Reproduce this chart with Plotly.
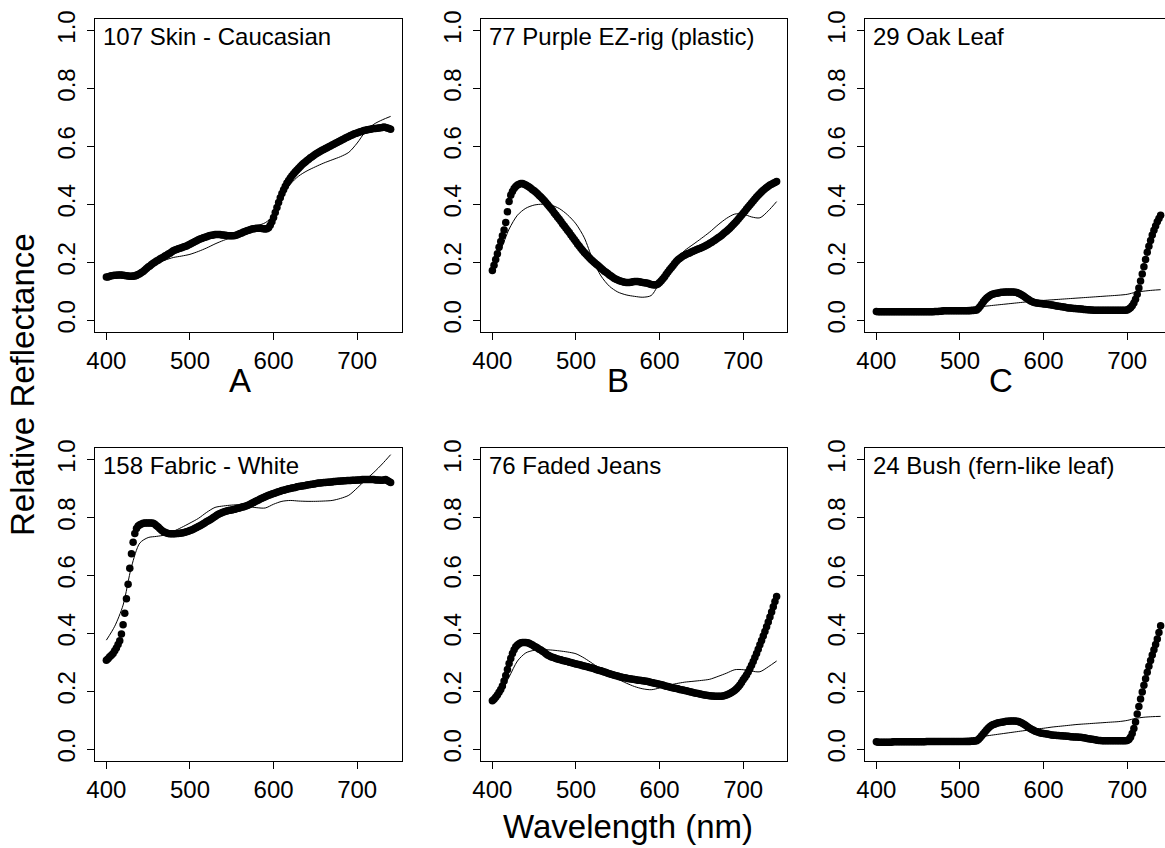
import plotly.graph_objects as go

# ---------------- data ----------------
wavelengths = list(range(400, 741, 2))      # measured wavelengths (nm)
fit_wavelengths = list(range(400, 741, 10))  # wavelengths of the fitted curves (nm)

panel_titles = ["107 Skin - Caucasian", "77 Purple EZ-rig (plastic)", "29 Oak Leaf",
                "158 Fabric - White", "76 Faded Jeans", "24 Bush (fern-like leaf)"]
panel_letters = ["A", "B", "C"]
x_tick_vals = [400, 500, 600, 700]
y_tick_vals = [0.0, 0.2, 0.4, 0.6, 0.8, 1.0]
y_tick_text = ["0.0", "0.2", "0.4", "0.6", "0.8", "1.0"]

skin_measured = [
    0.150, 0.150, 0.152, 0.154, 0.155, 0.156, 0.156, 0.157, 0.157, 0.157,
    0.156, 0.155, 0.154, 0.153, 0.152, 0.152, 0.152, 0.153, 0.155, 0.158,
    0.161, 0.165, 0.169, 0.174, 0.179, 0.184, 0.188, 0.193, 0.197, 0.201,
    0.205, 0.208, 0.212, 0.215, 0.218, 0.222, 0.225, 0.229, 0.232, 0.236,
    0.240, 0.243, 0.245, 0.247, 0.249, 0.251, 0.253, 0.255, 0.257, 0.260,
    0.263, 0.266, 0.269, 0.272, 0.275, 0.278, 0.281, 0.283, 0.285, 0.287,
    0.289, 0.291, 0.293, 0.294, 0.295, 0.296, 0.296, 0.296, 0.296, 0.295,
    0.295, 0.294, 0.293, 0.292, 0.292, 0.292, 0.292, 0.293, 0.295, 0.297,
    0.300, 0.302, 0.305, 0.307, 0.309, 0.311, 0.313, 0.315, 0.316, 0.317,
    0.318, 0.318, 0.318, 0.317, 0.316, 0.315, 0.316, 0.320, 0.328, 0.340,
    0.355, 0.372, 0.390, 0.407, 0.423, 0.438, 0.451, 0.463, 0.474, 0.483,
    0.491, 0.499, 0.506, 0.513, 0.519, 0.525, 0.531, 0.537, 0.542, 0.547,
    0.552, 0.556, 0.561, 0.565, 0.569, 0.573, 0.577, 0.580, 0.584, 0.587,
    0.590, 0.593, 0.596, 0.599, 0.602, 0.605, 0.608, 0.611, 0.614, 0.617,
    0.620, 0.623, 0.626, 0.629, 0.632, 0.635, 0.638, 0.640, 0.643, 0.645,
    0.647, 0.649, 0.651, 0.653, 0.655, 0.656, 0.658, 0.659, 0.660, 0.661,
    0.662, 0.662, 0.663, 0.664, 0.665, 0.666, 0.667, 0.666, 0.664, 0.662,
    0.660]
skin_fit = [
    0.148, 0.152, 0.157, 0.163, 0.172, 0.185, 0.198, 0.208, 0.217, 0.222,
    0.228, 0.238, 0.250, 0.264, 0.276, 0.287, 0.300, 0.314, 0.326, 0.337,
    0.362, 0.425, 0.470, 0.498, 0.516, 0.530, 0.543, 0.554, 0.565, 0.580,
    0.612, 0.652, 0.677, 0.692, 0.704]

purple_measured = [
    0.172, 0.190, 0.210, 0.230, 0.252, 0.272, 0.292, 0.312, 0.338, 0.375,
    0.410, 0.432, 0.445, 0.455, 0.462, 0.467, 0.470, 0.472, 0.472, 0.470,
    0.467, 0.464, 0.460, 0.456, 0.451, 0.447, 0.442, 0.437, 0.431, 0.426,
    0.420, 0.414, 0.407, 0.400, 0.393, 0.386, 0.379, 0.371, 0.364, 0.356,
    0.349, 0.341, 0.333, 0.326, 0.318, 0.310, 0.303, 0.295, 0.287, 0.279,
    0.271, 0.263, 0.256, 0.248, 0.241, 0.234, 0.228, 0.222, 0.216, 0.210,
    0.205, 0.200, 0.195, 0.190, 0.185, 0.180, 0.175, 0.170, 0.166, 0.162,
    0.157, 0.153, 0.149, 0.145, 0.142, 0.139, 0.137, 0.135, 0.133, 0.132,
    0.131, 0.131, 0.131, 0.132, 0.133, 0.134, 0.134, 0.134, 0.133, 0.132,
    0.131, 0.130, 0.129, 0.128, 0.126, 0.124, 0.123, 0.122, 0.123, 0.126,
    0.131, 0.137, 0.144, 0.151, 0.159, 0.167, 0.175, 0.182, 0.189, 0.196,
    0.203, 0.209, 0.214, 0.218, 0.222, 0.225, 0.228, 0.231, 0.233, 0.236,
    0.239, 0.241, 0.244, 0.246, 0.248, 0.251, 0.253, 0.256, 0.259, 0.262,
    0.266, 0.269, 0.273, 0.277, 0.281, 0.285, 0.289, 0.293, 0.298, 0.303,
    0.308, 0.313, 0.318, 0.324, 0.330, 0.336, 0.342, 0.349, 0.356, 0.363,
    0.370, 0.377, 0.384, 0.391, 0.398, 0.405, 0.412, 0.419, 0.426, 0.432,
    0.438, 0.444, 0.449, 0.454, 0.459, 0.463, 0.467, 0.470, 0.473, 0.476,
    0.479]
purple_fit = [
    0.205, 0.245, 0.315, 0.363, 0.387, 0.398, 0.401, 0.398, 0.386, 0.364,
    0.333, 0.285, 0.210, 0.153, 0.118, 0.098, 0.088, 0.083, 0.080, 0.086,
    0.130, 0.172, 0.212, 0.241, 0.262, 0.283, 0.305, 0.330, 0.352, 0.367,
    0.367, 0.357, 0.354, 0.378, 0.410]

oak_measured = [
    0.031, 0.030, 0.030, 0.030, 0.030, 0.030, 0.030, 0.030, 0.030, 0.030,
    0.030, 0.030, 0.030, 0.030, 0.030, 0.030, 0.030, 0.030, 0.030, 0.030,
    0.030, 0.030, 0.030, 0.030, 0.030, 0.030, 0.030, 0.030, 0.030, 0.030,
    0.030, 0.030, 0.030, 0.030, 0.030, 0.031, 0.031, 0.031, 0.032, 0.032,
    0.033, 0.033, 0.033, 0.033, 0.033, 0.033, 0.033, 0.033, 0.033, 0.033,
    0.033, 0.033, 0.033, 0.033, 0.033, 0.033, 0.033, 0.034, 0.034, 0.035,
    0.036, 0.041, 0.048, 0.056, 0.064, 0.071, 0.077, 0.082, 0.086, 0.089,
    0.091, 0.093, 0.094, 0.095, 0.096, 0.097, 0.097, 0.098, 0.098, 0.098,
    0.098, 0.098, 0.098, 0.097, 0.096, 0.094, 0.091, 0.088, 0.084, 0.080,
    0.076, 0.072, 0.068, 0.065, 0.063, 0.061, 0.060, 0.059, 0.058, 0.058,
    0.057, 0.057, 0.056, 0.055, 0.054, 0.053, 0.052, 0.051, 0.050, 0.049,
    0.048, 0.047, 0.046, 0.045, 0.044, 0.043, 0.043, 0.042, 0.041, 0.041,
    0.040, 0.040, 0.039, 0.039, 0.038, 0.038, 0.037, 0.037, 0.036, 0.036,
    0.035, 0.035, 0.035, 0.035, 0.035, 0.035, 0.035, 0.035, 0.035, 0.035,
    0.035, 0.035, 0.035, 0.035, 0.035, 0.035, 0.035, 0.035, 0.035, 0.035,
    0.036, 0.039, 0.044, 0.051, 0.060, 0.073, 0.090, 0.112, 0.136, 0.160,
    0.185, 0.210, 0.235, 0.256, 0.276, 0.295, 0.311, 0.326, 0.340, 0.352,
    0.363]
oak_fit = [
    0.031, 0.032, 0.033, 0.034, 0.035, 0.036, 0.037, 0.039, 0.040, 0.042,
    0.043, 0.045, 0.047, 0.049, 0.052, 0.055, 0.058, 0.061, 0.064, 0.067,
    0.069, 0.071, 0.073, 0.075, 0.077, 0.079, 0.081, 0.083, 0.085, 0.087,
    0.090, 0.097, 0.101, 0.104, 0.106]

fabric_measured = [
    0.308, 0.313, 0.320, 0.325, 0.331, 0.340, 0.350, 0.362, 0.375, 0.398,
    0.430, 0.470, 0.520, 0.570, 0.625, 0.675, 0.715, 0.745, 0.762, 0.771,
    0.775, 0.778, 0.780, 0.781, 0.781, 0.781, 0.781, 0.781, 0.780, 0.777,
    0.772, 0.767, 0.761, 0.756, 0.752, 0.749, 0.747, 0.745, 0.744, 0.744,
    0.744, 0.744, 0.745, 0.745, 0.746, 0.747, 0.748, 0.749, 0.751, 0.753,
    0.755, 0.757, 0.760, 0.763, 0.766, 0.769, 0.772, 0.775, 0.779, 0.782,
    0.786, 0.789, 0.792, 0.796, 0.800, 0.804, 0.808, 0.811, 0.814, 0.817,
    0.819, 0.821, 0.823, 0.824, 0.825, 0.826, 0.828, 0.829, 0.831, 0.832,
    0.834, 0.836, 0.837, 0.839, 0.841, 0.843, 0.846, 0.849, 0.852, 0.855,
    0.858, 0.861, 0.864, 0.867, 0.869, 0.872, 0.874, 0.877, 0.879, 0.881,
    0.883, 0.885, 0.887, 0.889, 0.891, 0.893, 0.894, 0.896, 0.898, 0.899,
    0.900, 0.902, 0.903, 0.904, 0.906, 0.907, 0.908, 0.909, 0.910, 0.911,
    0.912, 0.913, 0.914, 0.915, 0.916, 0.917, 0.918, 0.919, 0.919, 0.920,
    0.921, 0.921, 0.922, 0.922, 0.923, 0.923, 0.924, 0.924, 0.925, 0.925,
    0.926, 0.926, 0.927, 0.927, 0.928, 0.928, 0.928, 0.929, 0.929, 0.929,
    0.930, 0.930, 0.930, 0.931, 0.931, 0.931, 0.931, 0.931, 0.931, 0.931,
    0.931, 0.930, 0.930, 0.930, 0.929, 0.929, 0.930, 0.931, 0.928, 0.924,
    0.921]
fabric_fit = [
    0.377, 0.425, 0.498, 0.630, 0.712, 0.731, 0.735, 0.740, 0.752, 0.766,
    0.781, 0.797, 0.818, 0.835, 0.840, 0.843, 0.844, 0.838, 0.834, 0.833,
    0.846, 0.856, 0.859, 0.857, 0.856, 0.856, 0.857, 0.859, 0.866, 0.877,
    0.902, 0.930, 0.956, 0.985, 1.017]

jeans_measured = [
    0.168, 0.173, 0.180, 0.188, 0.197, 0.207, 0.219, 0.236, 0.255, 0.276,
    0.296, 0.314, 0.331, 0.344, 0.354, 0.360, 0.365, 0.368, 0.369, 0.369,
    0.369, 0.368, 0.366, 0.363, 0.360, 0.356, 0.353, 0.350, 0.346, 0.343,
    0.339, 0.335, 0.330, 0.326, 0.323, 0.320, 0.318, 0.316, 0.314, 0.312,
    0.310, 0.309, 0.307, 0.306, 0.304, 0.303, 0.301, 0.300, 0.298, 0.296,
    0.295, 0.294, 0.292, 0.291, 0.289, 0.288, 0.286, 0.285, 0.283, 0.282,
    0.280, 0.278, 0.276, 0.274, 0.272, 0.271, 0.269, 0.267, 0.265, 0.263,
    0.261, 0.259, 0.258, 0.256, 0.254, 0.253, 0.251, 0.250, 0.248, 0.247,
    0.246, 0.245, 0.244, 0.243, 0.242, 0.241, 0.240, 0.239, 0.239, 0.238,
    0.237, 0.236, 0.235, 0.234, 0.233, 0.231, 0.230, 0.228, 0.227, 0.226,
    0.225, 0.223, 0.222, 0.220, 0.218, 0.217, 0.215, 0.214, 0.213, 0.211,
    0.210, 0.209, 0.207, 0.206, 0.205, 0.203, 0.202, 0.201, 0.199, 0.198,
    0.196, 0.195, 0.194, 0.193, 0.191, 0.190, 0.189, 0.188, 0.187, 0.186,
    0.185, 0.184, 0.184, 0.183, 0.183, 0.183, 0.183, 0.183, 0.184, 0.186,
    0.188, 0.190, 0.193, 0.196, 0.200, 0.204, 0.209, 0.215, 0.222, 0.231,
    0.240, 0.248, 0.257, 0.267, 0.278, 0.290, 0.303, 0.317, 0.331, 0.346,
    0.361, 0.376, 0.391, 0.407, 0.423, 0.440, 0.457, 0.474, 0.492, 0.510,
    0.528]
jeans_fit = [
    0.172, 0.200, 0.250, 0.305, 0.333, 0.342, 0.344, 0.343, 0.340, 0.336,
    0.330, 0.315, 0.296, 0.277, 0.259, 0.243, 0.229, 0.217, 0.209, 0.206,
    0.212, 0.221, 0.227, 0.232, 0.235, 0.238, 0.242, 0.252, 0.263, 0.275,
    0.275, 0.270, 0.268, 0.285, 0.305]

bush_measured = [
    0.026, 0.025, 0.025, 0.025, 0.025, 0.025, 0.025, 0.025, 0.025, 0.025,
    0.026, 0.026, 0.026, 0.026, 0.026, 0.026, 0.026, 0.026, 0.026, 0.026,
    0.026, 0.026, 0.026, 0.026, 0.026, 0.026, 0.026, 0.026, 0.026, 0.026,
    0.027, 0.027, 0.027, 0.027, 0.027, 0.027, 0.027, 0.027, 0.027, 0.027,
    0.027, 0.027, 0.027, 0.027, 0.027, 0.027, 0.027, 0.027, 0.027, 0.027,
    0.027, 0.027, 0.027, 0.027, 0.027, 0.027, 0.027, 0.028, 0.028, 0.029,
    0.030, 0.034, 0.040, 0.047, 0.054, 0.061, 0.068, 0.074, 0.079, 0.083,
    0.086, 0.088, 0.090, 0.092, 0.093, 0.094, 0.095, 0.096, 0.097, 0.097,
    0.098, 0.098, 0.098, 0.098, 0.097, 0.096, 0.094, 0.091, 0.088, 0.084,
    0.080, 0.076, 0.072, 0.069, 0.066, 0.063, 0.061, 0.059, 0.057, 0.056,
    0.055, 0.054, 0.053, 0.052, 0.051, 0.050, 0.049, 0.049, 0.048, 0.048,
    0.047, 0.047, 0.046, 0.046, 0.045, 0.045, 0.044, 0.044, 0.043, 0.043,
    0.043, 0.042, 0.042, 0.041, 0.040, 0.039, 0.038, 0.037, 0.036, 0.035,
    0.034, 0.033, 0.032, 0.031, 0.031, 0.030, 0.030, 0.030, 0.030, 0.030,
    0.030, 0.030, 0.030, 0.030, 0.030, 0.030, 0.030, 0.030, 0.030, 0.030,
    0.031, 0.034, 0.042, 0.055, 0.072, 0.095, 0.122, 0.148, 0.174, 0.198,
    0.221, 0.244, 0.266, 0.287, 0.307, 0.326, 0.344, 0.362, 0.381, 0.403,
    0.427]
bush_fit = [
    0.025, 0.026, 0.027, 0.028, 0.029, 0.030, 0.031, 0.032, 0.033, 0.035,
    0.037, 0.039, 0.042, 0.046, 0.050, 0.054, 0.058, 0.062, 0.066, 0.070,
    0.073, 0.077, 0.080, 0.083, 0.086, 0.088, 0.090, 0.092, 0.094, 0.096,
    0.100, 0.107, 0.111, 0.113, 0.114]

measured = [skin_measured, purple_measured, oak_measured,
            fabric_measured, jeans_measured, bush_measured]
fits = [skin_fit, purple_fit, oak_fit, fabric_fit, jeans_fit, bush_fit]

# ---------------- layout geometry (pixels) ----------------
W, H = 1165, 848
col_px = [(95, 402), (481, 787), (865, 1165)]
row_px = [(19, 332), (448, 761)]
px_per_nm = 307 / 367.2
x_lo = 386.4
FONT = "Liberation Sans, Arial, Helvetica, sans-serif"

fig = go.Figure()
layout_axes = {}
annotations = []

for i in range(6):
    r, c = divmod(i, 3)
    n = i + 1
    xa = "x" if n == 1 else f"x{n}"
    ya = "y" if n == 1 else f"y{n}"
    fig.add_trace(go.Scatter(x=wavelengths, y=measured[i], mode="markers",
                             marker=dict(color="black", size=7.5, line=dict(width=0)),
                             xaxis=xa, yaxis=ya, showlegend=False, hoverinfo="x+y"))
    fig.add_trace(go.Scatter(x=fit_wavelengths, y=fits[i], mode="lines",
                             line=dict(color="black", width=1, shape="spline", smoothing=0.8),
                             xaxis=xa, yaxis=ya, showlegend=False, hoverinfo="x+y"))
    x0, x1 = col_px[c]
    y0, y1 = row_px[r]
    x_hi = x_lo + (x1 - x0) / px_per_nm
    last_col = (c == 2)
    layout_axes["xaxis" if n == 1 else f"xaxis{n}"] = dict(
        domain=[x0 / W, x1 / W], anchor=ya, range=[x_lo, x_hi], automargin=False,
        tickvals=x_tick_vals, ticks="outside", ticklen=7, tickwidth=1, tickcolor="black",
        showline=True, mirror=True, linecolor="black", linewidth=1,
        showgrid=False, zeroline=False, ticklabelstandoff=0,
        tickfont=dict(family=FONT, size=24, color="black"))
    layout_axes["yaxis" if n == 1 else f"yaxis{n}"] = dict(
        domain=[1 - y1 / H, 1 - y0 / H], anchor=xa, range=[-0.04, 1.04], automargin=False,
        tickvals=y_tick_vals, ticktext=y_tick_text, tickangle=-90,
        ticks="outside", ticklen=7, tickwidth=1, tickcolor="black",
        showline=True, mirror=(not last_col), linecolor="black", linewidth=1,
        showgrid=False, zeroline=False, ticklabelstandoff=2,
        tickfont=dict(family=FONT, size=24, color="black"))
    annotations.append(dict(text=panel_titles[i], xref="paper", yref="paper",
                            x=(x0 + 6) / W, y=1 - (y0 + 2) / H, xanchor="left", yanchor="top",
                            showarrow=False, font=dict(family=FONT, size=24, color="black")))

letter_x = [240, 618, 1001]
for c in range(3):
    annotations.append(dict(text=panel_letters[c], xref="paper", yref="paper",
                            x=letter_x[c] / W, y=1 - 380 / H, xanchor="center", yanchor="middle",
                            showarrow=False, font=dict(family=FONT, size=33, color="black")))

annotations.append(dict(text="Relative Reflectance", xref="paper", yref="paper",
                        x=22 / W, y=1 - 385 / H, xanchor="center", yanchor="middle",
                        textangle=-90, showarrow=False,
                        font=dict(family=FONT, size=33, color="black")))
annotations.append(dict(text="Wavelength (nm)", xref="paper", yref="paper",
                        x=628 / W, y=1 - 826 / H, xanchor="center", yanchor="middle",
                        showarrow=False, font=dict(family=FONT, size=33, color="black")))

fig.update_layout(template="none", width=W, height=H, margin=dict(l=0, r=0, t=0, b=0, pad=0),
                  paper_bgcolor="white", plot_bgcolor="white", hovermode=False,
                  annotations=annotations, **layout_axes)

fig.write_html("out.html", config={"displayModeBar": False, "staticPlot": True},
               post_script="document.body.style.margin='0';document.body.style.overflow='hidden';")
